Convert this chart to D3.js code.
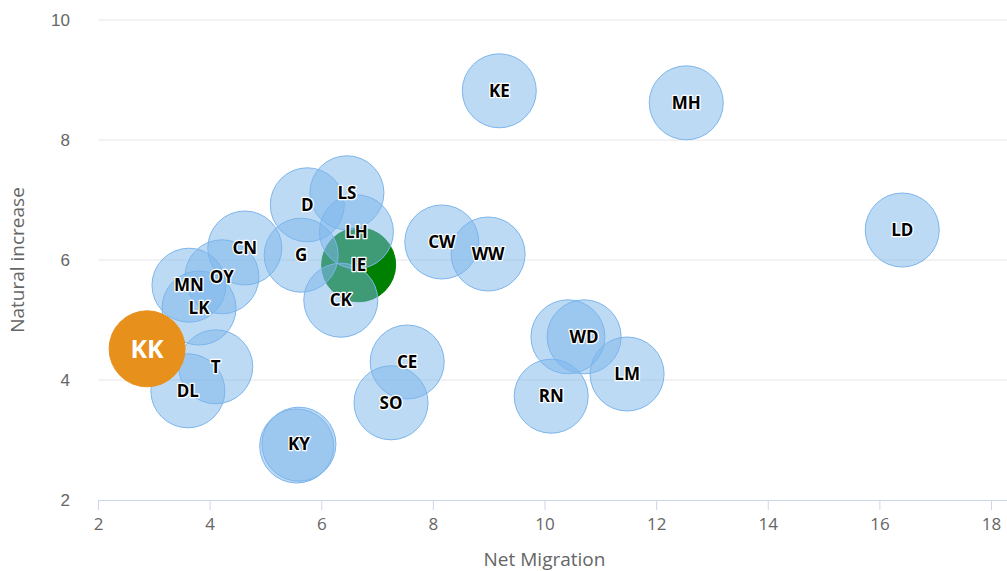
<!DOCTYPE html>
<html>
<head>
<meta charset="utf-8">
<script src="https://cdn.jsdelivr.net/npm/d3@7"></script>
<style>
  body { margin: 0; background: #fff; }
  svg { display: block; font-family: "Open Sans", "DejaVu Sans", sans-serif; }
</style>
</head>
<body>
<div id="viz"></div>
<script>
// bubble data
const labels   = ["IE", "KE", "MH", "LD", "D", "LS", "LH", "G", "CK", "CN", "OY", "MN", "LK", "T", "DL", "KY", "KY", "CE", "SO", "CW", "WW", "WD", "WD", "LM", "RN", "KK"];
const migration = [6.67, 9.19, 12.54, 16.41, 5.75, 6.46, 6.63, 5.64, 6.35, 4.63, 4.22, 3.63, 3.81, 4.11, 3.61, 5.56, 5.60, 7.54, 7.25, 8.16, 8.99, 10.42, 10.71, 11.48, 10.12, 2.88];
const increase  = [5.92, 8.82, 8.62, 6.50, 6.92, 7.12, 6.47, 6.08, 5.33, 6.20, 5.72, 5.58, 5.20, 4.22, 3.82, 2.90, 2.93, 4.30, 3.62, 6.30, 6.10, 4.72, 4.72, 4.10, 3.73, 4.52];
const kinds     = ["green", "blue", "blue", "blue", "blue", "blue", "blue", "blue", "blue", "blue", "blue", "blue", "blue", "blue", "blue", "blue", "blue", "blue", "blue", "blue", "blue", "blue", "blue", "blue", "blue", "orange"];

const xTicks = [2, 4, 6, 8, 10, 12, 14, 16, 18];
const yTicks = [2, 4, 6, 8, 10];

const width = 1007, height = 571;
const margin = {left: 98, right: 16, top: 20, bottom: 71};

const svg = d3.select("#viz").append("svg")
  .attr("width", width)
  .attr("height", height);

const xScale = d3.scaleLinear().domain([2, 18]).range([margin.left, width - margin.right]);
const yScale = d3.scaleLinear().domain([2, 10]).range([height - margin.bottom, margin.top]);

// horizontal grid lines
svg.append("g")
  .selectAll("line")
  .data(yTicks.filter(d => d > 2))
  .enter().append("line")
    .attr("x1", margin.left)
    .attr("x2", width)
    .attr("y1", d => yScale(d))
    .attr("y2", d => yScale(d))
    .attr("stroke", "#e6e6e6")
    .attr("stroke-width", 1);

// x axis
let xAxisG = svg.append("g")
  .attr("transform", "translate(0," + yScale(2) + ")")
  .call(d3.axisBottom(xScale).tickValues(xTicks).tickSize(10).tickPadding(8));
xAxisG.select(".domain").attr("stroke", "#ccd6eb").attr("d", "M" + xScale(2) + ",0.5H" + width);
xAxisG.selectAll(".tick line").attr("stroke", "#ccd6eb");
xAxisG.selectAll(".tick text")
  .attr("fill", "#666")
  .style("font-size", "17px")
  .style("font-family", "'Liberation Sans Narrow', 'Open Sans', sans-serif");

// y axis (labels only)
let yAxisG = svg.append("g")
  .attr("transform", "translate(" + (margin.left - 28) + ",0)")
  .call(d3.axisLeft(yScale).tickValues(yTicks).tickSize(0).tickPadding(0));
yAxisG.select(".domain").remove();
yAxisG.selectAll(".tick text")
  .attr("fill", "#666")
  .style("font-size", "17px");

// axis titles
svg.append("text")
  .attr("x", (xScale(2) + xScale(18)) / 2)
  .attr("y", 566)
  .attr("text-anchor", "middle")
  .attr("fill", "#666")
  .style("font-size", "19px")
  .text("Net Migration");

svg.append("text")
  .attr("transform", "translate(24," + yScale(6) + ") rotate(-90)")
  .attr("text-anchor", "middle")
  .attr("fill", "#666")
  .style("font-size", "19px")
  .text("Natural increase");

// bubbles
const points = labels.map((l, i) => ({label: l, x: migration[i], y: increase[i], kind: kinds[i]}));
const fills   = {blue: "rgba(124,181,236,0.5)", green: "#008000", orange: "#e8901c"};
const strokes = {blue: "#7cb5ec", green: "#008000", orange: "#e8901c"};

const bubbles = svg.append("g").attr("class", "bubbles");
bubbles.selectAll("circle")
  .data(points)
  .enter().append("circle")
    .attr("cx", d => xScale(d.x))
    .attr("cy", d => yScale(d.y))
    .attr("r", d => d.kind === "orange" ? 38 : 37)
    .attr("fill", d => fills[d.kind])
    .attr("stroke", d => strokes[d.kind])
    .attr("stroke-width", 1);

// data labels: overlapping duplicates show only one label (the last drawn)
const shown = points.filter((d, i) => labels.lastIndexOf(d.label) === i);
const labelG = svg.append("g").attr("class", "labels");
labelG.selectAll("text")
  .data(shown)
  .enter().append("text")
    .attr("x", d => xScale(d.x))
    .attr("y", d => yScale(d.y))
    .attr("dy", "0.36em")
    .attr("text-anchor", "middle")
    .style("font-weight", "bold")
    .style("font-size", d => d.kind === "orange" ? "25px" : "17px")
    .attr("fill", d => d.kind === "orange" ? "#fff" : "#000")
    .attr("stroke", d => d.kind === "orange" ? "none" : "#fff")
    .attr("stroke-width", 2.5)
    .attr("stroke-linejoin", "round")
    .attr("paint-order", "stroke")
    .text(d => d.label);
</script>
</body>
</html>
